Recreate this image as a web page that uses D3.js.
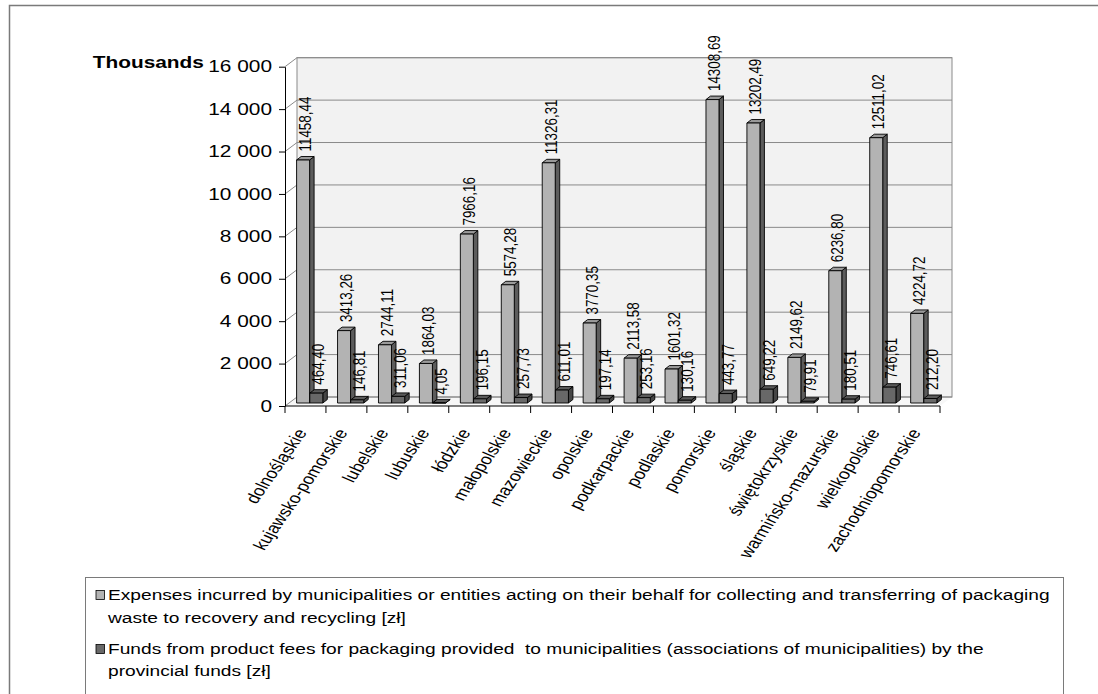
<!DOCTYPE html>
<html>
<head>
<meta charset="utf-8">
<script src="https://cdn.jsdelivr.net/npm/d3@7"></script>
<style>
  html, body { margin: 0; padding: 0; background: #fff; }
  svg { display: block; font-family: "Liberation Sans", Arial, sans-serif; }
  text { white-space: pre; }
</style>
</head>
<body>
<svg id="chart" width="1098" height="694"></svg>
<script>
// Voivodeships (categories)
const regions = [
  "dolnośląskie", "kujawsko-pomorskie", "lubelskie", "lubuskie", "łódzkie",
  "małopolskie", "mazowieckie", "opolskie", "podkarpackie", "podlaskie",
  "pomorskie", "śląskie", "świętokrzyskie", "warmińsko-mazurskie",
  "wielkopolskie", "zachodniopomorskie"
];

// Expenses for collecting and transferring packaging waste (thousand zł)
const expenses = [
  11458.44, 3413.26, 2744.11, 1864.03, 7966.16, 5574.28, 11326.31, 3770.35,
  2113.58, 1601.32, 14308.69, 13202.49, 2149.62, 6236.80, 12511.02, 4224.72
];

// Funds from product fees provided by the provincial funds (thousand zł)
const funds = [
  464.40, 146.81, 311.06, 4.05, 196.15, 257.73, 611.01, 197.14,
  253.16, 130.16, 443.77, 649.22, 79.91, 180.51, 746.61, 212.20
];

// Value axis ticks
const yTickValues = [0, 2000, 4000, 6000, 8000, 10000, 12000, 14000, 16000];

const axisTitle = "Thousands";
const legendLines = [
  ["Expenses incurred by municipalities or entities acting on their behalf for collecting and transferring of packaging",
   "waste to recovery and recycling [zł]"],
  ["Funds from product fees for packaging provided  to municipalities (associations of municipalities) by the",
   "provincial funds [zł]"]
];

// ---- styling / geometry ----
const SX = 1.28;                 // horizontal glyph stretch
const WALL = { dx: 12, dy: -9 }; // depth of the 3D floor/walls
const SHIFT = { dy: -3 };        // bar row sits slightly back inside the depth
const BD = { dx: 4.5, dy: -3.5 };// bar depth
const BAR_W = 13;
const seriesStyle = [
  { front: "#b3b3b3", top: "#9a9a9a", side: "#5c5c5c", off: 11.6 },
  { front: "#686868", top: "#5a5a5a", side: "#454545", off: 24.8 }
];

const svg = d3.select("#chart");

const x = d3.scaleBand().domain(regions).range([285, 940]);
const y = d3.scaleLinear().domain([0, 16000]).range([406, 66.7]);

const fmtTick = d3.formatLocale({ decimal: ",", thousands: "\u00a0", grouping: [3], currency: ["", ""] }).format(",d");
const fmtVal = d3.formatLocale({ decimal: ",", thousands: "", grouping: [3], currency: ["", ""] }).format(".2f");

// outer frame
svg.append("rect")
  .attr("x", 9.5).attr("y", 5.5).attr("width", 1200).attr("height", 800)
  .attr("fill", "none").attr("stroke", "#7a7a7a").attr("stroke-width", 1.5);

const [x0, x1] = x.range();
const yBottom = y(0), yTopV = y(16000);

// floor
svg.append("polygon")
  .attr("points", [[x0, yBottom], [x1, yBottom], [x1 + WALL.dx, yBottom + WALL.dy], [x0 + WALL.dx, yBottom + WALL.dy]].map(p => p.join(",")).join(" "))
  .attr("fill", "#f7f7f7");

// back wall
svg.append("rect")
  .attr("x", x0 + WALL.dx).attr("y", yTopV + WALL.dy)
  .attr("width", x1 - x0).attr("height", yBottom - yTopV)
  .attr("fill", "#f2f2f2").attr("stroke", "#8a8a8a").attr("stroke-width", 1);

// gridlines: back wall and side wall diagonals
const grid = svg.append("g").attr("stroke", "#8a8a8a").attr("stroke-width", 1).attr("fill", "none");
yTickValues.forEach(t => {
  const yy = y(t);
  grid.append("line").attr("x1", x0 + WALL.dx).attr("x2", x1 + WALL.dx)
    .attr("y1", yy + WALL.dy).attr("y2", yy + WALL.dy);
  grid.append("line").attr("x1", x0).attr("x2", x0 + WALL.dx)
    .attr("y1", yy).attr("y2", yy + WALL.dy);
});

// value axis (line + ticks)
const yAxis = d3.axisLeft(y).tickValues(yTickValues).tickSize(6).tickSizeOuter(0).tickFormat("");
svg.append("g").attr("transform", `translate(${x0},0)`).call(yAxis)
  .call(g => g.selectAll("path,line").attr("stroke", "#000"));

// category axis line and tick marks at band boundaries
const xa = svg.append("g").attr("stroke", "#000").attr("stroke-width", 1);
xa.append("line").attr("x1", x0).attr("x2", x1).attr("y1", yBottom).attr("y2", yBottom);
regions.map(r => x(r)).concat([x1]).forEach(px => {
  xa.append("line").attr("x1", px).attr("x2", px).attr("y1", yBottom).attr("y2", yBottom + 7);
});

// value axis labels
svg.append("g").selectAll("g").data(yTickValues).join("g")
  .attr("transform", d => `translate(272,${y(d)}) scale(${SX},1)`)
  .append("text")
  .attr("text-anchor", "end").attr("dy", "0.35em")
  .attr("font-size", 16.3).attr("fill", "#000")
  .text(d => fmtTick(d));

svg.append("g").attr("transform", `translate(92.7,67.5) scale(${SX},1)`)
  .append("text").attr("font-size", 16.3).attr("font-weight", "bold").attr("fill", "#000")
  .text(axisTitle);

// category labels
svg.append("g").selectAll("g").data(regions).join("g")
  .attr("transform", d => `translate(${x(d) + x.bandwidth() / 2 - 4},430) scale(${SX},1) rotate(-61)`)
  .append("text")
  .attr("text-anchor", "end").attr("dy", "0.35em")
  .attr("font-size", 15).attr("fill", "#000")
  .text(d => d);

// bars
const series = [expenses, funds];
const bars = svg.append("g").attr("stroke", "#000").attr("stroke-width", 0.9).attr("stroke-linejoin", "round");
const labelData = [];
regions.forEach((r, i) => {
  series.forEach((vals, s) => {
    const st = seriesStyle[s];
    const v = vals[i];
    const bx = x(r) + st.off;          // front-left corner of the bar
    const base = y(0) + SHIFT.dy;
    const top = y(v) + SHIFT.dy;
    const w = BAR_W;
    const g = bars.append("g");
    g.append("polygon").attr("fill", st.side)
      .attr("points", [[bx + w, top], [bx + w + BD.dx, top + BD.dy], [bx + w + BD.dx, base + BD.dy], [bx + w, base]].map(p => p.join(",")).join(" "));
    g.append("polygon").attr("fill", st.top)
      .attr("points", [[bx, top], [bx + BD.dx, top + BD.dy], [bx + w + BD.dx, top + BD.dy], [bx + w, top]].map(p => p.join(",")).join(" "));
    g.append("rect").attr("fill", st.front)
      .attr("x", bx).attr("y", top).attr("width", w).attr("height", Math.max(0, base - top));
    labelData.push({ cx: bx + w / 2 + 2, yb: top + BD.dy - 5, v });
  });
});

// value labels
svg.append("g").selectAll("g").data(labelData).join("g")
  .attr("transform", d => `translate(${d.cx},${d.yb}) scale(${SX},1) rotate(-90)`)
  .append("text")
  .attr("dy", "0.35em").attr("font-size", 13.4).attr("fill", "#000")
  .text(d => fmtVal(d.v));

// legend
svg.append("rect").attr("x", 85.5).attr("y", 577.5).attr("width", 978).attr("height", 200)
  .attr("fill", "#fff").attr("stroke", "#7a7a7a").attr("stroke-width", 1);

const legendFont = 14;
const lg = svg.append("g");
// measure the first line to set the horizontal stretch of legend text
const probe = lg.append("text").attr("font-size", legendFont).text(legendLines[0][0]);
const natural = probe.node().getComputedTextLength();
probe.remove();
const LSX = 942 / natural;
const baselines = [[600, 623], [654, 676]];
legendLines.forEach((lines, s) => {
  const st = seriesStyle[s];
  lg.append("rect").attr("x", 96).attr("y", baselines[s][0] - 9.5).attr("width", 8.5).attr("height", 9)
    .attr("fill", st.front).attr("stroke", "#000").attr("stroke-width", 0.8);
  lines.forEach((ln, k) => {
    lg.append("g").attr("transform", `translate(108,${baselines[s][k]}) scale(${LSX},1)`)
      .append("text").attr("font-size", legendFont).attr("fill", "#000").text(ln);
  });
});
</script>
</body>
</html>
